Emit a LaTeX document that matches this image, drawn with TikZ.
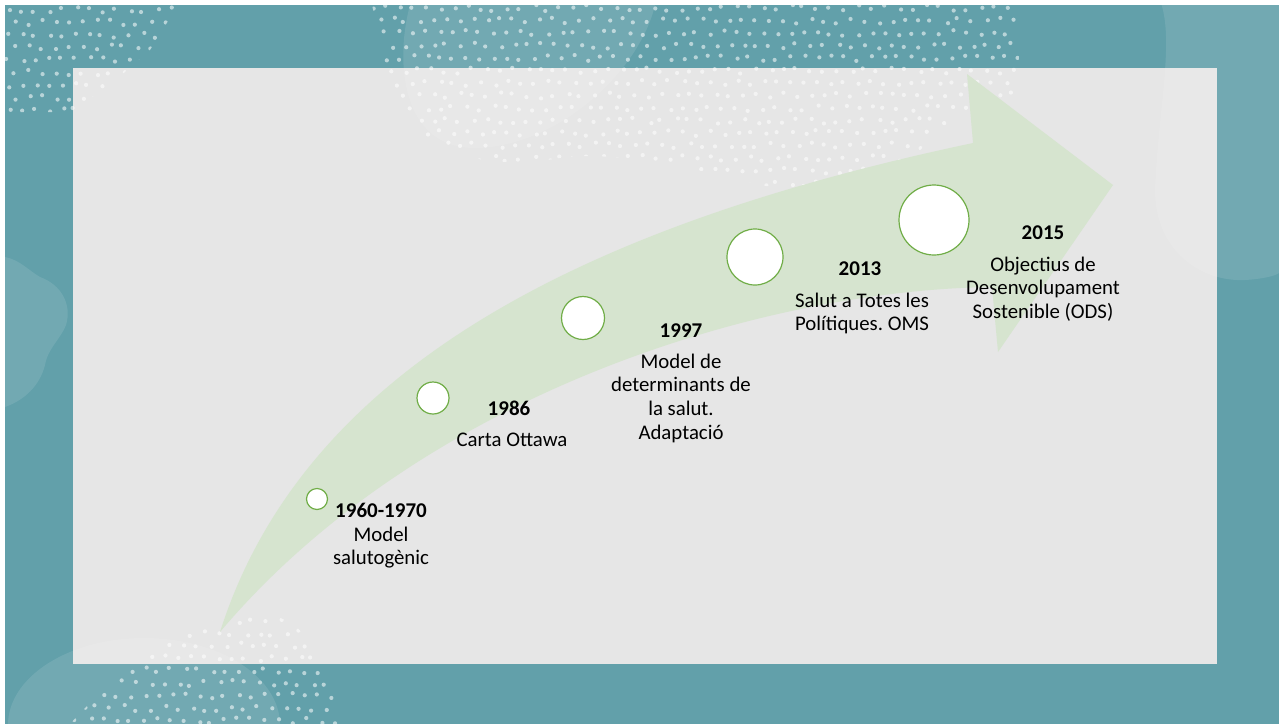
\documentclass[tikz,border=0pt]{standalone}
\usepackage{fontspec}
\setmainfont{Carlito}
\frenchspacing
\definecolor{teal1}{RGB}{98,160,170}
\definecolor{panel}{RGB}{230,230,230}
\definecolor{arrowgreen}{RGB}{214,228,207}
\definecolor{ringgreen}{RGB}{112,173,71}
\tikzset{
  milestone/.style={circle,draw=ringgreen,line width=1.2pt,fill=white,inner sep=0pt},
  yearlbl/.style={font=\fontsize{21}{24}\selectfont\bfseries,anchor=base,inner sep=0pt},
  desclbl/.style={font=\fontsize{20.8}{23.6}\selectfont,align=center,anchor=base,inner sep=0pt},
  blob/.style={fill=white,fill opacity=0.1},
  dot/.style={fill=white,fill opacity=0.55}
}
\begin{document}
\begin{tikzpicture}[x=1pt,y=-1pt]
\useasboundingbox (0,0) rectangle (1279,724);
\fill[white] (0,0) rectangle (1279,724);
\fill[teal1] (5,5) rectangle (1279,724);
\fill[panel] (73,68) rectangle (1217,664);
% blobs
\fill[blob] (1160,0) .. controls (1175,40) and (1158,110) .. (1155,190)
  .. controls (1155,250) and (1200,282) .. (1245,280) .. controls (1262,279) and (1275,276) .. (1279,273) -- (1279,0) -- cycle;
\fill[blob] (5,257) .. controls (20,260) and (28,270) .. (40,277) .. controls (62,285) and (72,305) .. (66,325)
  .. controls (60,340) and (48,348) .. (45,365) .. controls (40,385) and (25,400) .. (5,407) -- cycle;
\fill[blob] (144,725) ellipse [x radius=136,y radius=87];
\fill[blob] (410,5) .. controls (395,60) and (400,150) .. (478,148) .. controls (560,145) and (640,70) .. (655,5) -- cycle;
% dots
\pgfmathsetseed{11}
\begin{scope}
\clip (5,5) -- (178,5) -- (150,50) -- (110,85) -- (70,112) -- (5,112) -- cycle;
\foreach \i in {0,...,13}{\foreach \j in {0,...,8}{
  \pgfmathsetmacro\xx{8+\i*13.5+mod(\j,2)*6.5+rand*3}
  \pgfmathsetmacro\yy{10+\j*12.5+rand*3}
  \fill[dot] (\xx,\yy) circle (2.1);}}
\end{scope}
\begin{scope}
\clip (372,5) -- (1020,5) -- (1018,95) .. controls (990,100) and (960,110) .. (920,150)
  .. controls (880,185) and (820,195) .. (760,185) .. controls (700,170) and (620,150) .. (560,158)
  .. controls (500,168) and (450,160) .. (420,130) .. controls (395,105) and (385,70) .. (380,40) -- cycle;
\foreach \i in {0,...,48}{\foreach \j in {0,...,15}{
  \pgfmathsetmacro\xx{372+\i*13.5+mod(\j,2)*6.5+rand*3}
  \pgfmathsetmacro\yy{8+\j*12.5+rand*3}
  \fill[dot] (\xx,\yy) circle (2.1);}}
\end{scope}
\begin{scope}
\clip (70,724) .. controls (110,680) and (170,630) .. (240,612) .. controls (290,605) and (330,650) .. (338,700) -- (338,724) -- cycle;
\foreach \i in {0,...,20}{\foreach \j in {0,...,9}{
  \pgfmathsetmacro\xx{70+\i*13.5+mod(\j,2)*6.5+rand*3}
  \pgfmathsetmacro\yy{608+\j*12.5+rand*3}
  \fill[dot] (\xx,\yy) circle (2.1);}}
\end{scope}
% arrow
\fill[arrowgreen] (220,632) .. controls (300,380) and (560,230) .. (973,143)
  -- (967,74) -- (1113,185) -- (998,352) -- (992,287)
  .. controls (760,290) and (420,395) .. (220,632) -- cycle;
% milestones
\node[milestone,minimum size=21pt] (c1) at (317,499) {};
\node[milestone,minimum size=32pt] (c2) at (433,398) {};
\node[milestone,minimum size=43pt] (c3) at (583,318) {};
\node[milestone,minimum size=56pt] (c4) at (755,257) {};
\node[milestone,minimum size=70pt] (c5) at (934,220) {};
% labels (base = baseline of the last line)
\node[yearlbl] (y1) at (381,517) {1960-1970};
\node[desclbl] (d1) at (381,564.6) {Model\\salutogènic};
\node[yearlbl] (y2) at (509,415) {1986};
\node[desclbl] (d2) at (512,446) {Carta Ottawa};
\node[yearlbl] (y3) at (681,337) {1997};
\node[desclbl] (d3) at (681,439) {Model de\\determinants de\\la salut.\\Adaptació};
\node[yearlbl] (y4) at (860,275) {2013};
\node[desclbl] (d4) at (862,330.6) {Salut a Totes les\\Polítiques. OMS};
\node[yearlbl] (y5) at (1043,239) {2015};
\node[desclbl] (d5) at (1043,318.2) {Objectius de\\Desenvolupament\\Sostenible (ODS)};
\end{tikzpicture}
\end{document}
